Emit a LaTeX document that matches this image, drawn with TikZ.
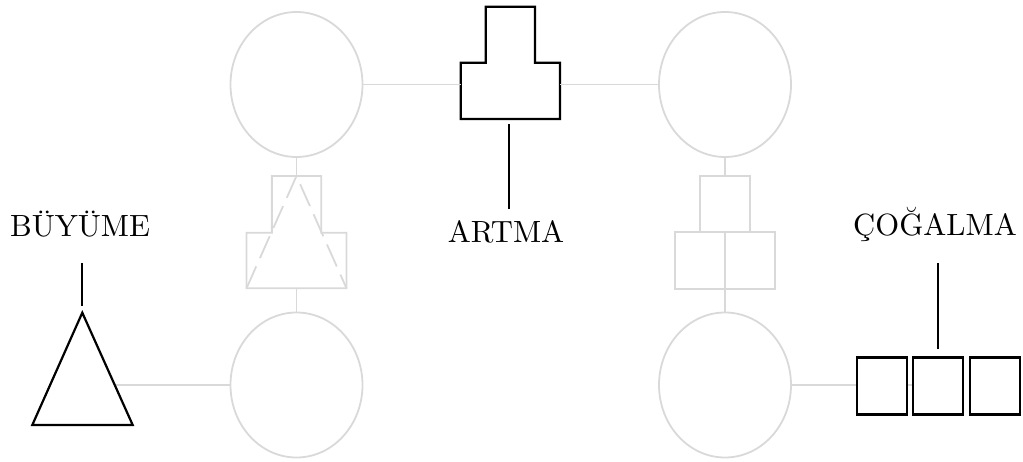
\documentclass[tikz,border=0pt]{standalone}
\usepackage{fontspec}
\setmainfont{lmroman10-regular}[Extension=.otf]
\usetikzlibrary{shapes.geometric}
\definecolor{lgray}{HTML}{D9D9D9}
\begin{document}
\begin{tikzpicture}[x=1pt,y=-1pt,
  gr/.style={draw=lgray, line width=1.8pt},
  bk/.style={draw=black, line width=2.2pt, line join=miter},
  ell/.style={gr, ellipse, minimum width=132pt, minimum height=145pt, inner sep=0pt, outer sep=0pt},
  hid/.style={rectangle, inner sep=0pt, outer sep=0pt},
  gbox/.style={gr, rectangle, inner sep=0pt, outer sep=0pt},
  sq/.style={bk, fill=white, rectangle, inner sep=0pt, outer sep=0pt, minimum width=50pt, minimum height=57pt},
  lbl/.style={inner sep=0pt, anchor=base, font=\fontsize{30.7}{36}\selectfont}
]
\useasboundingbox (0,0) rectangle (1023,462);

% ellipses
\node[ell] (tl) at (296.5,84.5) {};
\node[ell] (tr) at (725,84.5) {};
\node[ell] (bl) at (296.5,385) {};
\node[ell] (br) at (725,385) {};

% ARTMA shape (T outline)
\node[hid, minimum width=99.3pt, minimum height=56.3pt] (artb) at (510.35,90.85) {};
\node[hid, minimum width=49.2pt, minimum height=56pt] (artt) at (510.4,34.7) {};
\draw[bk] (artt.north west) -- (artt.north east) -- (artt.south east) -- (artb.north east)
  -- (artb.south east) -- (artb.south west) -- (artb.north west) -- (artt.south west) -- cycle;

% left middle shape (gray T outline)
\node[hid, minimum width=49.3pt, minimum height=56.7pt] (ltop) at (296.5,204.3) {};
\node[hid, minimum width=100pt, minimum height=55.6pt] (lbot) at (296.5,260.5) {};
\draw[gr] (ltop.north west) -- (ltop.north east) -- (ltop.south east) -- (lbot.north east)
  -- (lbot.south east) -- (lbot.south west) -- (lbot.north west) -- (ltop.south west) -- cycle;
\draw[draw=lgray, line width=1.8pt, dash pattern=on 24pt off 9pt]
  (lbot.south west) -- (ltop.north) -- (lbot.south east);

% right middle shape
\node[gbox, minimum width=49.3pt, minimum height=55.7pt] (rtop) at (725,203.8) {};
\node[gbox, minimum width=50pt, minimum height=57.6pt] (rb1) at (700,260.5) {};
\node[gbox, minimum width=50pt, minimum height=57.6pt] (rb2) at (750,260.5) {};

% gray connectors
\draw[gr] (tl.east) -- (artb.west |- tl.east);
\draw[gr] (artb.east |- tr.west) -- (tr.west);
\draw[gr] (tl.south) -- (ltop.north);
\draw[gr] (lbot.south) -- (bl.north);
\draw[gr] (tr.south) -- (rtop.north);
\draw[gr] (rb1.south east) -- (br.north);

% BÜYÜME triangle
\coordinate (tA) at (82.3,312.7);
\coordinate (tB) at (32.3,425);
\coordinate (tC) at (132.7,425);
\coordinate (tR) at (114.7,385);
\draw[gr] (tR) -- (bl.west);
\draw[bk] (tA) -- (tC) -- (tB) -- cycle;

% squares
\coordinate (s2w) at (913.8,385);
\draw[gr] (br.east) -- (s2w);
\node[sq] (s1) at (882.2,386) {};
\node[sq] (s2) at (938.3,386) {};
\node[sq] (s3) at (994.6,386) {};

% labels
\node[lbl] (buy) at (80,236.7) {BÜYÜME};
\node[lbl] (art) at (506,242.7) {ARTMA};
\node[lbl] (cog) at (935,236) {ÇOĞALMA};

% black label lines
\coordinate (b1) at (82.3,263);
\coordinate (b2) at (82.3,305.7);
\draw[bk] (b1) -- (b2);
\coordinate (a1) at (509.3,124);
\coordinate (a2) at (509.3,209);
\draw[bk] (a1) -- (a2);
\coordinate (c1) at (938.3,263.3);
\coordinate (c2) at (938.3,349);
\draw[bk] (c1) -- (c2);
\end{tikzpicture}
\end{document}
